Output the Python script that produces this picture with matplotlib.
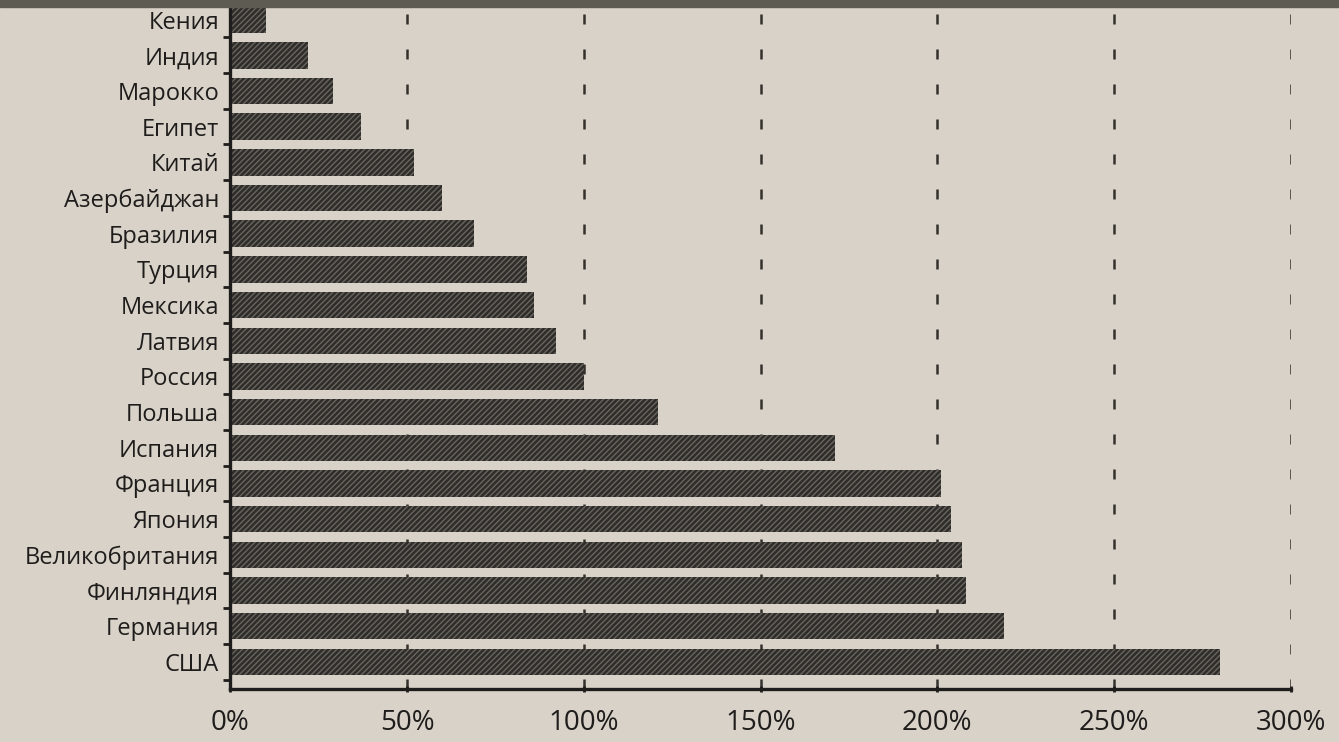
import numpy as np
import matplotlib
matplotlib.use("Agg")
import matplotlib.pyplot as plt
from matplotlib.patches import Rectangle

# countries from bottom to top, values in percent
countries = ["США", "Германия", "Финляндия", "Великобритания", "Япония",
             "Франция", "Испания", "Польша", "Россия", "Латвия", "Мексика",
             "Турция", "Бразилия", "Азербайджан", "Китай", "Египет",
             "Марокко", "Индия", "Кения"]
values = [280, 219, 208, 207, 204, 201, 171, 121, 100, 92, 86, 84, 69, 60,
          52, 37, 29, 22, 10]
xticks = [0, 50, 100, 150, 200, 250, 300]

paper = "#d8d2c9"
ink = "#1f1d1b"

plt.rcParams['font.family'] = ['Open Sans', 'DejaVu Sans']
plt.rcParams['hatch.linewidth'] = 1.8

fig = plt.figure(figsize=(13.39, 7.42), dpi=100, facecolor=paper)
ax = fig.add_axes([0.172, 0.072, 0.792, 0.928])
ax.set_facecolor(paper)

y = np.arange(len(countries))
ax.barh(y, values, height=0.74, color="#68645e", edgecolor="#2f2d2a",
        linewidth=0, hatch="//////", zorder=2)

ax.set_xlim(0, 300)
ax.set_ylim(-0.75, len(countries) - 0.45)
ax.set_xticks(xticks)
ax.set_xticklabels([f"{v}%" for v in xticks], fontsize=20, color=ink)
ax.set_yticks(y)
ax.set_yticklabels(countries, fontsize=17, color=ink)
ax.tick_params(axis='y', length=0, pad=8)
ax.tick_params(axis='x', length=5, width=2, color=ink, pad=12, direction='inout')
ax.set_yticks(np.arange(-0.5, len(countries) - 0.5, 1), minor=True)
ax.tick_params(axis='y', which='minor', length=5, width=2, color=ink)

for v in xticks[1:]:
    ax.axvline(v, color="#34312d", linewidth=1.8, linestyle=(0, (4, 10)), zorder=1)

for side in ["top", "right"]:
    ax.spines[side].set_visible(False)
ax.spines["left"].set_linewidth(2.4)
ax.spines["bottom"].set_linewidth(2.4)
ax.spines["left"].set_color(ink)
ax.spines["bottom"].set_color(ink)

# dark strip at the top edge of the photo
fig.patches.append(Rectangle((0, 0.99), 1, 0.01, transform=fig.transFigure,
                             color="#5e5b52", zorder=10))

fig.savefig("out.png", dpi=100, facecolor=paper)
